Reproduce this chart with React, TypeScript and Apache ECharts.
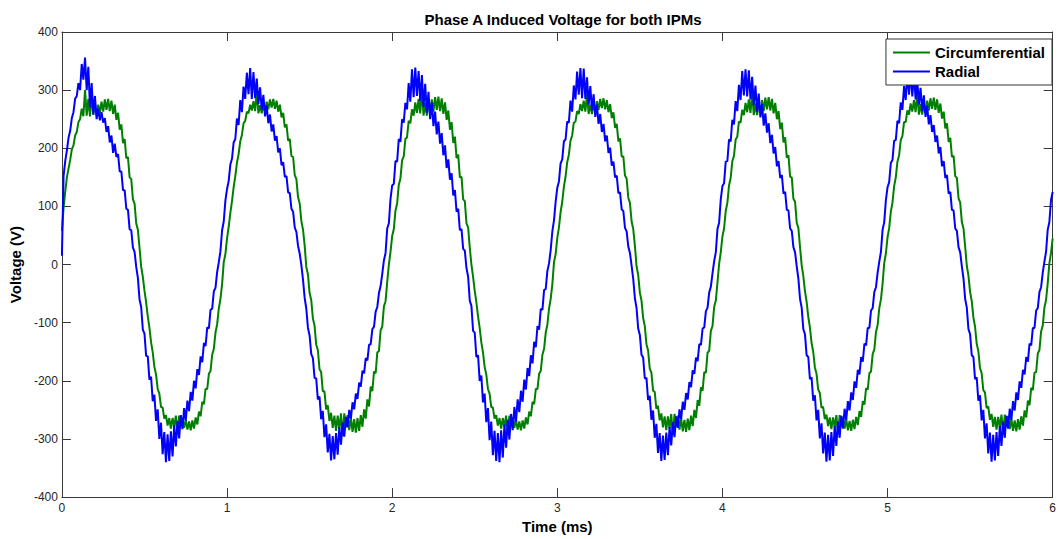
import React, { useEffect, useRef } from "react";
import * as echarts from "echarts";

const TITLE = "Phase A Induced Voltage for both IPMs";
const X_NAME = "Time (ms)";
const Y_NAME = "Voltage (V)";
const SERIES_NAMES = ["Circumferential", "Radial"];
const SAMPLE_STEP_MS = 0.01;
const X_TICKS = [0, 1, 2, 3, 4, 5, 6];
const Y_TICKS = [-400, -300, -200, -100, 0, 100, 200, 300, 400];

// Radial (blue), one array per millisecond
const radialP1 = [15,152,178,196,218,230,252,262,285,290,312,300,345,318,356,300,340,270,312,258,290,250,268,248,262,244,252,228,238,210,222,192,208,185,190,160,160,128,128,96,94,61,59,29,22,-4,-23,-60,-73,-112,-119,-157,-158,-198,-193,-235,-224,-269,-249,-300,-272,-326,-288,-340,-292,-338,-287,-330,-277,-313,-269,-299,-259,-283,-247,-268,-234,-252,-219,-234,-200,-213,-180,-190,-158,-168,-135,-140,-108,-110,-78,-76,-46,-40,-13,4,23,59,74,110];
const radialP2 = [130,144,172,182,210,216,251,240,283,262,306,285,330,293,338,285,331,286,320,276,305,266,292,255,274,243,258,229,241,213,221,193,200,171,176,151,152,124,123,96,91,64,56,32,19,-1,-26,-57,-76,-109,-122,-154,-161,-195,-196,-232,-227,-266,-252,-297,-275,-323,-291,-337,-295,-335,-290,-327,-280,-310,-272,-296,-262,-280,-250,-265,-237,-249,-222,-231,-203,-210,-183,-187,-161,-165,-138,-137,-111,-107,-81,-73,-49,-37,-16,7,20,62,71,113];
const radialP3 = [136,139,178,177,216,211,250,244,278,267,312,280,336,288,339,290,333,281,326,271,311,261,297,250,279,238,263,224,246,208,226,188,205,166,181,146,157,119,128,91,96,59,61,27,24,-6,-21,-62,-71,-114,-117,-159,-156,-200,-191,-237,-222,-271,-247,-302,-270,-328,-286,-338,-290,-340,-285,-332,-275,-315,-267,-301,-257,-285,-245,-270,-232,-254,-217,-236,-198,-215,-178,-192,-156,-170,-133,-142,-106,-112,-76,-78,-44,-42,-11,2,25,57,76,108];
const radialP4 = [132,143,174,181,212,215,246,244,282,263,308,284,332,292,338,286,337,285,322,275,307,265,293,254,275,242,259,228,242,212,222,192,201,170,177,150,153,123,124,95,92,63,57,31,20,-2,-25,-58,-75,-110,-121,-155,-160,-196,-195,-233,-226,-267,-251,-298,-274,-324,-290,-338,-294,-336,-289,-328,-279,-311,-271,-297,-261,-281,-249,-266,-236,-250,-221,-232,-202,-211,-182,-188,-160,-166,-137,-138,-110,-108,-80,-74,-48,-38,-15,6,21,61,72,112];
const radialP5 = [135,140,177,178,215,212,249,241,281,264,309,283,333,291,336,289,334,284,323,274,308,262,294,253,276,239,260,227,243,209,223,191,202,169,178,149,154,122,125,94,93,62,58,30,21,-3,-24,-59,-74,-111,-120,-156,-159,-197,-194,-234,-225,-268,-250,-299,-273,-325,-289,-339,-293,-337,-288,-329,-278,-312,-270,-298,-260,-282,-248,-267,-235,-251,-220,-233,-201,-212,-181,-189,-159,-167,-136,-139,-109,-109,-79,-75,-47,-39,-14,5,22,60,73,111];
const radialP6 = [133,142,175,180,213,214,247,243,279,266,307,283,329,292,332,289,328,284,318,275,304,264,291,254,273,241,257,228,240,211,222,191,202,169,178,149,154,122,125,94,93,62,58,30,21,-3,-24,-59,-74,-111,-120,-156,-159,-197,-194,-234,-225,-268,-250,-299,-273,-325,-289,-339,-293,-337,-288,-329,-278,-312,-270,-298,-260,-282,-248,-267,-235,-251,-220,-233,-201,-212,-181,-189,-159,-167,-136,-139,-109,-109,-79,-75,-47,-39,-14,5,22,60,73,111];
const radialEnd = [125];

// Circumferential (green), one array per millisecond
const circP1 = [58,98,125,150,165,180,198,205,222,228,245,250,268,255,300,256,285,255,290,258,278,256,275,260,280,263,284,266,285,264,282,259,275,249,261,232,241,209,216,183,185,150,147,112,105,71,60,29,-4,-21,-45,-65,-89,-109,-134,-151,-176,-189,-214,-222,-245,-246,-265,-259,-277,-264,-282,-264,-279,-260,-290,-260,-276,-263,-281,-267,-284,-270,-285,-268,-282,-263,-275,-253,-261,-236,-240,-214,-214,-188,-183,-155,-145,-117,-103,-76,-59,-34,4,18];
const circP2 = [45,65,89,109,133,152,175,190,212,223,243,247,263,260,275,265,281,264,298,260,274,260,275,263,280,267,284,270,285,268,282,263,275,253,261,236,241,213,216,187,185,154,147,116,105,75,60,33,-4,-17,-49,-61,-93,-105,-138,-147,-180,-185,-218,-218,-249,-242,-269,-255,-281,-260,-286,-260,-283,-256,-295,-256,-280,-259,-285,-263,-288,-266,-289,-264,-286,-259,-279,-249,-265,-232,-244,-210,-218,-184,-187,-151,-149,-113,-107,-72,-63,-30,0,22];
const circP3 = [49,61,93,105,137,148,179,186,216,219,247,243,267,256,279,261,285,260,300,256,278,256,279,259,284,263,288,266,289,264,286,259,279,249,265,232,245,209,220,183,189,150,151,112,109,71,64,29,0,-21,-45,-65,-89,-109,-134,-151,-176,-189,-214,-222,-245,-246,-265,-259,-277,-264,-282,-264,-279,-260,-290,-260,-276,-263,-281,-267,-284,-270,-285,-268,-282,-263,-275,-253,-261,-236,-240,-214,-214,-188,-183,-155,-145,-117,-103,-76,-59,-34,4,18];
const circP4 = [46,64,90,108,134,151,176,189,213,222,244,246,264,259,276,264,282,263,293,259,275,259,276,262,281,266,285,269,286,267,283,262,276,252,262,235,242,212,217,186,186,153,148,115,106,74,61,32,-3,-18,-48,-62,-92,-106,-137,-148,-179,-186,-217,-219,-248,-243,-268,-256,-280,-261,-285,-261,-282,-257,-293,-257,-279,-260,-284,-264,-287,-267,-288,-265,-285,-260,-278,-250,-264,-233,-243,-211,-217,-185,-186,-152,-148,-114,-106,-73,-62,-31,1,21];
const circP5 = [48,62,92,106,136,149,178,187,215,220,246,244,266,257,278,262,284,261,296,257,277,257,278,260,283,264,287,267,288,265,285,260,278,250,264,233,244,210,219,184,188,151,150,113,108,72,63,30,-1,-20,-46,-64,-90,-108,-135,-150,-177,-188,-215,-221,-246,-245,-266,-258,-278,-263,-283,-263,-280,-259,-291,-259,-277,-262,-282,-266,-285,-269,-286,-267,-283,-262,-276,-252,-262,-235,-241,-213,-215,-187,-184,-154,-146,-116,-104,-75,-60,-33,3,19];
const circP6 = [47,63,91,107,135,150,177,188,214,221,245,245,265,258,277,263,283,262,295,258,276,258,277,261,282,265,286,268,287,266,284,261,277,251,263,234,243,211,218,185,187,152,149,114,107,73,62,31,-2,-19,-47,-63,-91,-107,-136,-149,-178,-187,-216,-220,-247,-244,-267,-257,-279,-262,-284,-262,-281,-258,-292,-258,-278,-261,-283,-265,-286,-268,-287,-266,-284,-261,-277,-251,-263,-234,-242,-212,-216,-186,-185,-153,-147,-115,-105,-74,-61,-32,2,20];
const circEnd = [45];

const radialValues = [...radialP1, ...radialP2, ...radialP3, ...radialP4, ...radialP5, ...radialP6, ...radialEnd];
const circValues = [...circP1, ...circP2, ...circP3, ...circP4, ...circP5, ...circP6, ...circEnd];

const toPairs = (vals: number[]) =>
  vals.map((v, i) => [Math.round(i * SAMPLE_STEP_MS * 1000) / 1000, v]);

const FONT = 'Arial, "Liberation Sans", Helvetica, sans-serif';
const AXIS_COLOR = "#3a3a3a";
const LABEL_COLOR = "#262626";

export default function App() {
  const ref = useRef<HTMLDivElement>(null);

  useEffect(() => {
    if (!ref.current) return;
    const chart = echarts.init(ref.current, null, { renderer: "svg" });
    const axisCommon = {
      axisLine: { show: true, onZero: false, lineStyle: { color: AXIS_COLOR, width: 1 } },
      axisTick: { show: true, inside: true, length: 9, lineStyle: { color: AXIS_COLOR, width: 1 } },
      splitLine: { show: false },
    };
    chart.setOption({
      animation: false,
      backgroundColor: "#ffffff",
      title: {
        text: TITLE,
        left: 558,
        textAlign: "center",
        top: 7,
        textStyle: { fontFamily: FONT, fontSize: 15, fontWeight: "bold", color: "#000" },
      },
      legend: {
        data: SERIES_NAMES,
        orient: "vertical",
        right: 7,
        top: 39,
        icon: "rect",
        itemWidth: 37,
        itemHeight: 2,
        itemGap: 4,
        padding: [6, 7, 6, 7],
        backgroundColor: "#ffffff",
        borderColor: "#333333",
        borderWidth: 1,
        borderRadius: 0,
        textStyle: { fontFamily: FONT, fontSize: 15, fontWeight: "bold", color: "#000", padding: [0, 0, 0, 0] },
      },
      grid: { left: 61, right: 3, top: 32, bottom: 39, containLabel: false },
      xAxis: [
        {
          type: "value",
          min: X_TICKS[0],
          max: X_TICKS[X_TICKS.length - 1],
          interval: 1,
          position: "bottom",
          ...axisCommon,
          axisLabel: { margin: 5, fontFamily: FONT, fontSize: 12, color: LABEL_COLOR },
          name: X_NAME,
          nameLocation: "middle",
          nameGap: 19,
          nameTextStyle: { fontFamily: FONT, fontSize: 15, fontWeight: "bold", color: "#000" },
        },
        {
          type: "value",
          min: X_TICKS[0],
          max: X_TICKS[X_TICKS.length - 1],
          interval: 1,
          position: "top",
          ...axisCommon,
          axisLabel: { show: false },
        },
      ],
      yAxis: [
        {
          type: "value",
          min: Y_TICKS[0],
          max: Y_TICKS[Y_TICKS.length - 1],
          interval: 100,
          position: "left",
          ...axisCommon,
          axisLabel: { margin: 4, fontFamily: FONT, fontSize: 12, color: LABEL_COLOR },
          name: Y_NAME,
          nameLocation: "middle",
          nameGap: 35,
          nameTextStyle: { fontFamily: FONT, fontSize: 15, fontWeight: "bold", color: "#000" },
        },
        {
          type: "value",
          min: Y_TICKS[0],
          max: Y_TICKS[Y_TICKS.length - 1],
          interval: 100,
          position: "right",
          ...axisCommon,
          axisLabel: { show: false },
        },
      ],
      series: [
        {
          name: SERIES_NAMES[0],
          type: "line",
          xAxisIndex: 0,
          yAxisIndex: 0,
          data: toPairs(circValues),
          showSymbol: false,
          symbol: "none",
          lineStyle: { color: "#008000", width: 2 },
          itemStyle: { color: "#008000" },
          z: 2,
        },
        {
          name: SERIES_NAMES[1],
          type: "line",
          xAxisIndex: 0,
          yAxisIndex: 0,
          data: toPairs(radialValues),
          showSymbol: false,
          symbol: "none",
          lineStyle: { color: "#0000ff", width: 2 },
          itemStyle: { color: "#0000ff" },
          z: 3,
        },
      ],
    });
    return () => chart.dispose();
  }, []);

  return (
    <div
      ref={ref}
      style={{ position: "fixed", left: 0, top: 0, width: 1059, height: 539, background: "#fff" }}
    />
  );
}
